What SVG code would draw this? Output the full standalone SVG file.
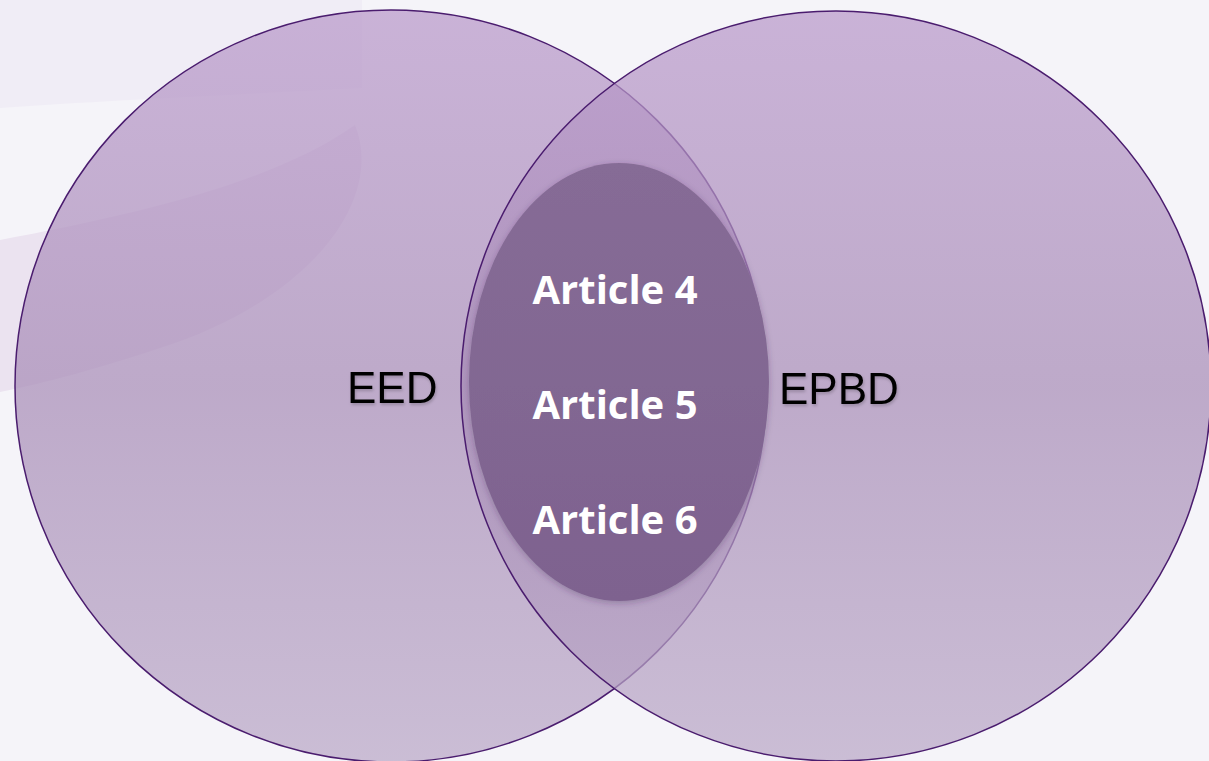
<svg xmlns="http://www.w3.org/2000/svg" width="1209" height="761" viewBox="0 0 1209 761">
  <defs>
    <linearGradient id="circleFill" x1="0" y1="0" x2="0" y2="1">
      <stop offset="0" stop-color="#b999ca"/>
      <stop offset="0.5" stop-color="#a88db7"/>
      <stop offset="1" stop-color="#baa8c7"/>
    </linearGradient>
    <linearGradient id="ovalFill" x1="0" y1="0" x2="0" y2="1">
      <stop offset="0" stop-color="#866c96"/>
      <stop offset="1" stop-color="#7e628f"/>
    </linearGradient>
    <filter id="soft" x="-10%" y="-10%" width="120%" height="120%">
      <feGaussianBlur in="SourceAlpha" stdDeviation="3"/>
      <feOffset dx="0" dy="2" result="b"/>
      <feFlood flood-color="#3c2450" flood-opacity="0.3"/>
      <feComposite in2="b" operator="in"/>
      <feMerge><feMergeNode/><feMergeNode in="SourceGraphic"/></feMerge>
    </filter>
    <filter id="txtShadow" x="-10%" y="-20%" width="120%" height="150%">
      <feGaussianBlur in="SourceAlpha" stdDeviation="1.5"/>
      <feOffset dx="1" dy="2" result="b"/>
      <feFlood flood-color="#000" flood-opacity="0.2"/>
      <feComposite in2="b" operator="in"/>
      <feMerge><feMergeNode/><feMergeNode in="SourceGraphic"/></feMerge>
    </filter>
    <style>
      .set { fill: url(#circleFill); fill-opacity: 0.72; stroke: #4a1c6e; stroke-width: 1.5; }
      .label { font-family: "Liberation Sans", Arial, sans-serif; font-size: 44px; fill: #000; }
      .art { font-family: "Open Sans", "Noto Sans", sans-serif; font-weight: bold; font-size: 40px; fill: #fff; text-anchor: middle; }
    </style>
  </defs>

  <!-- background -->
  <rect x="0" y="0" width="1209" height="761" fill="#f5f4f9"/>
  <path d="M0,0 H362 V88 C250,94 110,100 0,108 Z" fill="#f0edf6"/>
  <path d="M0,240 C130,215 270,185 355,125 C385,200 310,300 160,348 C100,368 45,383 0,392 Z" fill="#ebe3f0"/>

  <g id="node-eed">
    <circle class="set" cx="391" cy="386" r="376"/>
    <text class="label" x="347" y="403" filter="url(#txtShadow)">EED</text>
  </g>

  <g id="node-epbd">
    <circle class="set" cx="836" cy="386" r="375"/>
    <text class="label" x="779" y="404" filter="url(#txtShadow)">EPBD</text>
  </g>

  <g id="node-articles">
    <ellipse cx="619" cy="382" rx="150" ry="219" fill="url(#ovalFill)" filter="url(#soft)"/>
    <text class="art" x="615" y="304">Article 4</text>
    <text class="art" x="615" y="419">Article 5</text>
    <text class="art" x="615" y="534">Article 6</text>
  </g>

  <g id="connectors"></g>
</svg>
